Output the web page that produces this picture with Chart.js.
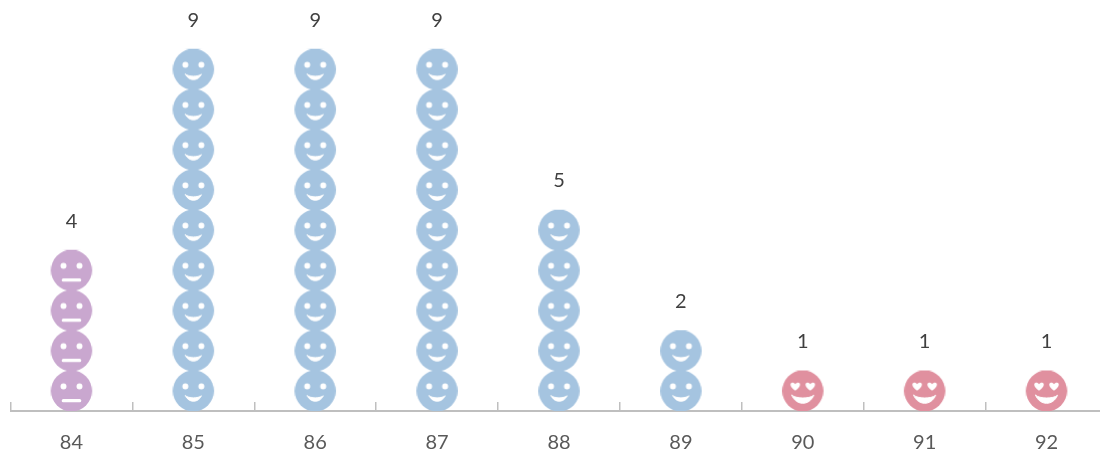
<!DOCTYPE html>
<html>
<head>
<meta charset="utf-8">
<title>Score counts</title>
<script src="https://cdn.jsdelivr.net/npm/chart.js@4/dist/chart.umd.min.js"></script>
<style>
  html, body { margin: 0; height: 100%; background: #fff; overflow: hidden; }
  canvas { display: block; }
</style>
</head>
<body>
<canvas id="scoreChart" width="1120" height="484"></canvas>
<script>
const categories = ['84', '85', '86', '87', '88', '89', '90', '91', '92'];
const counts = [4, 9, 9, 9, 5, 2, 1, 1, 1];
const moods = ['neutral', 'smile', 'smile', 'smile', 'smile', 'smile', 'love', 'love', 'love'];

const moodColors = { neutral: '#c9a7cf', smile: '#a5c4e0', love: '#e0909f' };
const FACE_WIDTH = 41;

function drawHeart(g, x, y, s) {
  g.beginPath();
  g.moveTo(x, y + s);
  g.bezierCurveTo(x - s * 1.7, y - s * 0.1, x - s * 0.9, y - s * 1.2, x, y - s * 0.35);
  g.bezierCurveTo(x + s * 0.9, y - s * 1.2, x + s * 1.7, y - s * 0.1, x, y + s);
  g.fill();
}

function drawCrescent(g, halfWidth, top, topDip, bottomDip) {
  const cx = halfWidth * 0.6;
  g.beginPath();
  g.moveTo(-halfWidth, top);
  g.bezierCurveTo(-cx, topDip, cx, topDip, halfWidth, top);
  g.bezierCurveTo(cx, bottomDip, -cx, bottomDip, -halfWidth, top);
  g.closePath();
  g.fill();
  g.stroke();
}

// one repeating face, bars get stacked icons by filling with this tile
function faceTile(mood, pitch) {
  const tile = document.createElement('canvas');
  tile.width = FACE_WIDTH;
  tile.height = Math.round(pitch);
  const g = tile.getContext('2d');
  g.translate(FACE_WIDTH / 2, tile.height / 2);

  g.fillStyle = moodColors[mood];
  g.beginPath();
  g.arc(0, 0, 20.5, 0, Math.PI * 2);
  g.fill();

  g.fillStyle = '#fff';
  g.strokeStyle = '#fff';
  g.lineCap = 'round';
  g.lineJoin = 'round';
  g.lineWidth = 1;

  if (mood === 'love') {
    drawHeart(g, -7.5, -5, 4.8);
    drawHeart(g, 7.5, -5, 4.8);
    drawCrescent(g, 11, 4.3, 8, 15);
    return tile;
  }

  g.beginPath();
  g.arc(-8, -4.4, 3, 0, Math.PI * 2);
  g.arc(8, -4.4, 3, 0, Math.PI * 2);
  g.fill();

  if (mood === 'neutral') {
    g.lineWidth = 3.2;
    g.beginPath();
    g.moveTo(-8.2, 9.7);
    g.lineTo(8.2, 9.7);
    g.stroke();
  } else {
    drawCrescent(g, 8, 4.8, 7.6, 12.2);
  }
  return tile;
}

function faceFill(ctx) {
  const chart = ctx.chart;
  if (!chart.chartArea || ctx.dataIndex === undefined) return 'rgba(0,0,0,0)';
  const x = chart.scales.x;
  const y = chart.scales.y;
  const base = y.getPixelForValue(0);
  const pitch = base - y.getPixelForValue(1);
  const tile = faceTile(moods[ctx.dataIndex], pitch);
  const pattern = chart.ctx.createPattern(tile, 'repeat');
  const left = x.getPixelForValue(ctx.dataIndex) - FACE_WIDTH / 2;
  pattern.setTransform(new DOMMatrix()
    .translate(left, base)
    .scale(1, pitch / tile.height));
  return pattern;
}

// count printed above each column
const countLabels = {
  id: 'countLabels',
  afterDatasetsDraw(chart) {
    const g = chart.ctx;
    g.save();
    g.font = '20px Lato, "Open Sans", sans-serif';
    g.fillStyle = '#404040';
    g.textAlign = 'center';
    g.textBaseline = 'middle';
    chart.getDatasetMeta(0).data.forEach((bar, i) => {
      g.fillText(counts[i], bar.x, bar.y - 29);
    });
    g.restore();
  }
};

new Chart(document.getElementById('scoreChart'), {
  type: 'bar',
  data: {
    labels: categories,
    datasets: [{
      data: counts,
      backgroundColor: faceFill,
      borderWidth: 0,
      barThickness: FACE_WIDTH
    }]
  },
  options: {
    responsive: false,
    animation: false,
    events: [],
    layout: { padding: { left: 10.5, right: 12.5, top: 9, bottom: 0 } },
    plugins: { legend: { display: false }, tooltip: { enabled: false } },
    scales: {
      x: {
        border: { color: '#bfbfbf', width: 2 },
        grid: {
          drawOnChartArea: false,
          color: '#bfbfbf',
          lineWidth: 1.5,
          tickLength: -9
        },
        ticks: {
          color: '#595959',
          padding: 29,
          maxRotation: 0,
          font: { family: 'Lato, "Open Sans", sans-serif', size: 20 }
        }
      },
      y: { display: false, min: 0, max: 10 }
    }
  },
  plugins: [countLabels]
});
</script>
</body>
</html>
